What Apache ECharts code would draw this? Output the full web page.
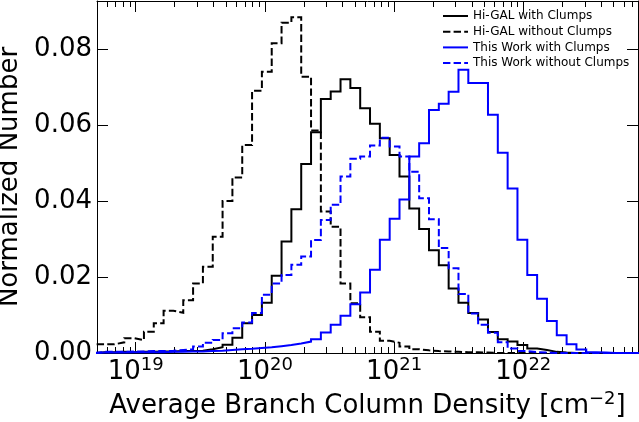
<!DOCTYPE html>
<html><head><meta charset="utf-8">
<script src="https://cdn.jsdelivr.net/npm/echarts@6/dist/echarts.min.js"></script>
<style>html,body{margin:0;padding:0;background:#fff}#c{width:639px;height:422px}</style>
</head><body><div id="c"></div>
<script>
// ---- data (log10 of column density, bin edges; normalized counts per bin) ----
const BIN_START = 18.6834;   // log10 of first bin edge
const BIN_WIDTH = 0.07608;   // bin width in dex
const X_MIN = 18.7005, X_MAX = 22.8878;
const Y_MAX = 0.0926;

const seriesNames = ['Hi-GAL with Clumps', 'Hi-GAL without Clumps', 'This Work with Clumps', 'This Work without Clumps'];

const higalWith = [0.0002,0.0002,0.0003,0.0002,0.0003,0.0003,0.0004,0.0004,0.0005,0.0005,
  0.0006,0.0010,0.0015,0.0022,0.0040,0.0078,0.0100,0.0132,0.0203,0.0293,
  0.0378,0.0497,0.0581,0.0668,0.0688,0.0720,0.0697,0.0644,0.0603,0.0565,
  0.0521,0.0464,0.0380,0.0326,0.0270,0.0231,0.0170,0.0132,0.0105,0.0088,
  0.0055,0.0036,0.0030,0.0021,0.0012,0.0008,0.0003,0.0001,0,0,
  0,0,0,0,0,0];
const higalWithout = [0.0023,0.0023,0.0028,0.0039,0.0034,0.0056,0.0078,0.0111,0.0106,0.0139,
  0.0183,0.0227,0.0306,0.0400,0.0462,0.0547,0.0690,0.0740,0.0815,0.0869,
  0.0883,0.0727,0.0585,0.0372,0.0332,0.0183,0.0131,0.0094,0.0056,0.0032,
  0.0027,0.0017,0.0010,0.0007,0.0005,0.0004,0.0003,0.0002,0.0002,0.0001,
  0,0,0,0,0,0,0,0,0,0,
  0,0,0,0,0,0];
const thisWorkWith = [0.0001,0.0001,0.0001,0.0002,0.0002,0.0002,0.0002,0.0003,0.0003,0.0004,
  0.0004,0.0005,0.0006,0.0008,0.0010,0.0011,0.0013,0.0015,0.0018,0.0021,
  0.0025,0.0030,0.0036,0.0054,0.0074,0.0098,0.0128,0.0159,0.0219,0.0298,
  0.0353,0.0404,0.0517,0.0552,0.0639,0.0656,0.0687,0.0745,0.0710,0.0710,
  0.0627,0.0527,0.0433,0.0298,0.0205,0.0143,0.0084,0.0047,0.0023,0.0009,
  0.0002,0.0001,0,0,0,0];
const thisWorkWithout = [0.0003,0.0003,0.0003,0.0004,0.0004,0.0005,0.0005,0.0006,0.0008,0.0010,
  0.0017,0.0027,0.0034,0.0052,0.0065,0.0080,0.0105,0.0153,0.0183,0.0205,
  0.0232,0.0254,0.0297,0.0350,0.0390,0.0464,0.0511,0.0517,0.0546,0.0566,
  0.0543,0.0517,0.0477,0.0407,0.0352,0.0276,0.0223,0.0155,0.0104,0.0074,
  0.0053,0.0028,0.0012,0.0005,0.0002,0.0001,0,0,0,0,
  0,0,0,0,0,0];

const majorTicks = [19, 20, 21, 22];          // 10^19 ... 10^22
const yTicks = [0, 0.02, 0.04, 0.06, 0.08];
const minorTicks = [];
for (let n = 18; n <= 22; n++) for (let m = 2; m <= 9; m++) {
  const v = n + Math.log10(m);
  if (v > X_MIN && v < X_MAX) minorTicks.push(v);
}

// ---- build step outlines (matplotlib histtype='step') ----
function stepData(vals) {
  const pts = [[BIN_START, 0]];
  vals.forEach((v, k) => pts.push([BIN_START + k * BIN_WIDTH, v]));
  const last = BIN_START + vals.length * BIN_WIDTH;
  pts.push([last, vals[vals.length - 1]]);
  pts.push([last, 0]);
  return pts;
}

const FONT = 'DejaVu Sans';
const DASH = [7.4, 3.2];
const styles = [
  {color: '#000000', type: 'solid'},
  {color: '#000000', type: DASH},
  {color: '#0000ff', type: 'solid'},
  {color: '#0000ff', type: DASH}
];
const allData = [higalWith, higalWithout, thisWorkWith, thisWorkWithout];

const tickLine = {color: '#000', width: 1};
function xAx(pos, ticks, len, extra) {
  return Object.assign({
    type: 'value', position: pos, min: X_MIN, max: X_MAX,
    axisLine: {show: false, onZero: false, lineStyle: tickLine},
    axisTick: {show: true, inside: true, length: len, customValues: ticks, lineStyle: tickLine},
    axisLabel: {show: false},
    splitLine: {show: false}
  }, extra || {});
}

const chart = echarts.init(document.getElementById('c'), null, {renderer: 'canvas'});
chart.setOption({
  animation: false,
  backgroundColor: '#fff',
  grid: {left: 97, right: 1, top: 1, bottom: 69, containLabel: false, outerBoundsMode: 'none'},
  legend: {
    orient: 'vertical', left: 442, top: 10, padding: 0,
    itemWidth: 25, itemHeight: 14, itemGap: 3.7,
    itemStyle: {opacity: 0},
    textStyle: {fontFamily: FONT, fontSize: 12, color: '#000'},
    data: seriesNames
  },
  xAxis: [
    xAx('bottom', majorTicks, 11, {
      axisLine: {show: true, onZero: false, lineStyle: tickLine},
      axisLabel: {
        show: true, customValues: majorTicks, margin: 3,
        formatter: v => '{b|10}{s|' + Math.round(v) + '}',
        rich: {
          b: {fontFamily: FONT, fontSize: 26, color: '#000', lineHeight: 32},
          s: {fontFamily: FONT, fontSize: 18, color: '#000', verticalAlign: 'top'}
        }
      },
      name: '{n|Average Branch Column Density [cm}{s|\u22122}{n|]}',
      nameLocation: 'middle', nameGap: 32,
      nameTextStyle: {
        rich: {
          n: {fontFamily: FONT, fontSize: 26, color: '#000', lineHeight: 32},
          s: {fontFamily: FONT, fontSize: 18, color: '#000', verticalAlign: 'top'}
        }
      }
    }),
    xAx('bottom', minorTicks, 6),
    xAx('top', majorTicks, 11, {axisLine: {show: true, onZero: false, lineStyle: tickLine}}),
    xAx('top', minorTicks, 6)
  ],
  yAxis: [
    {
      type: 'value', position: 'left', min: 0, max: Y_MAX,
      axisLine: {show: true, onZero: false, lineStyle: tickLine},
      axisTick: {show: true, inside: true, length: 11, customValues: yTicks, lineStyle: tickLine},
      axisLabel: {show: true, customValues: yTicks, margin: 5, formatter: v => v.toFixed(2),
        fontFamily: FONT, fontSize: 26, color: '#000'},
      splitLine: {show: false},
      name: 'Normalized Number', nameLocation: 'middle', nameGap: 60,
      nameTextStyle: {fontFamily: FONT, fontSize: 26, color: '#000'}
    },
    {
      type: 'value', position: 'right', min: 0, max: Y_MAX,
      axisLine: {show: true, onZero: false, lineStyle: tickLine},
      axisTick: {show: true, inside: true, length: 11, customValues: yTicks, lineStyle: tickLine},
      axisLabel: {show: false},
      splitLine: {show: false}
    }
  ],
  series: allData.map((vals, i) => ({
    name: seriesNames[i], type: 'line', step: 'end', symbol: 'none', showSymbol: false,
    xAxisIndex: 0, yAxisIndex: 0,
    lineStyle: {color: styles[i].color, width: 2, type: styles[i].type, join: 'miter'},
    itemStyle: {color: styles[i].color},
    data: stepData(vals), clip: true
  }))
});
</script></body></html>
